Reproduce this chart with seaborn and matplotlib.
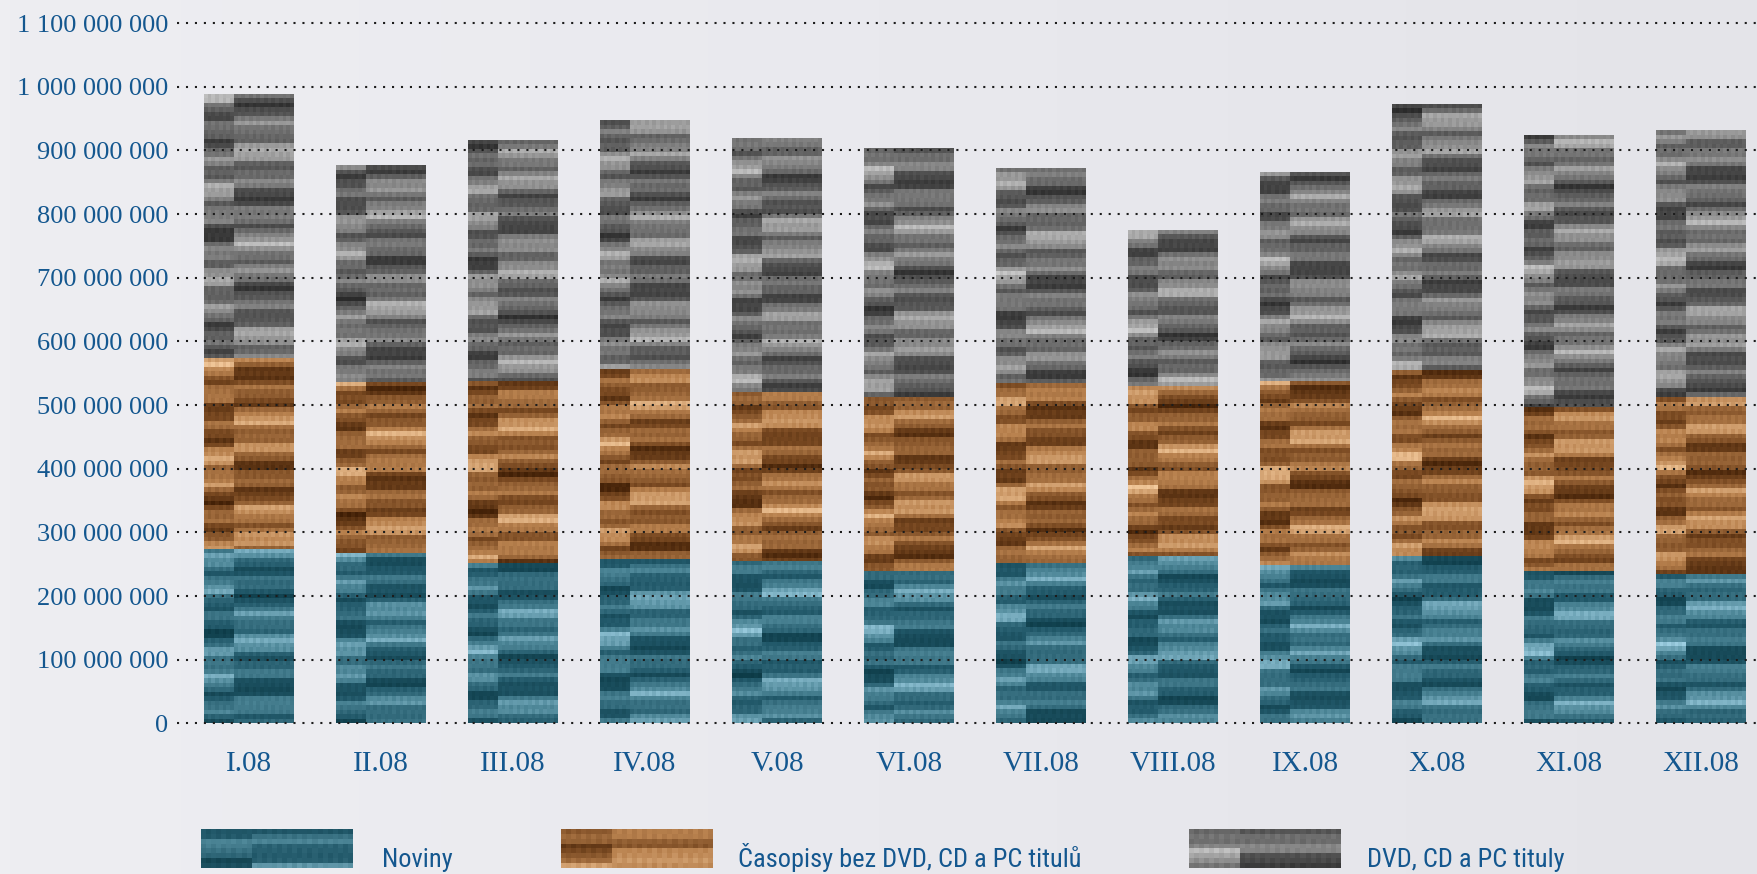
import numpy as np
import pandas as pd
import matplotlib
matplotlib.use("Agg")
import matplotlib.pyplot as plt
import seaborn as sns
from matplotlib.colors import LinearSegmentedColormap
from matplotlib.ticker import FuncFormatter

# Monthly print-run volumes, 2008
months = ["I.08", "II.08", "III.08", "IV.08", "V.08", "VI.08",
          "VII.08", "VIII.08", "IX.08", "X.08", "XI.08", "XII.08"]
noviny = [273_000_000, 267_000_000, 250_000_000, 257_000_000, 253_000_000, 238_000_000,
          251_000_000, 262_000_000, 248_000_000, 262_000_000, 238_000_000, 233_000_000]
casopisy = [301_000_000, 268_000_000, 286_000_000, 300_000_000, 267_000_000, 274_000_000,
            283_000_000, 268_000_000, 289_000_000, 293_000_000, 258_000_000, 279_000_000]
dvd = [414_000_000, 342_000_000, 379_000_000, 391_000_000, 399_000_000, 390_000_000,
       337_000_000, 245_000_000, 329_000_000, 417_000_000, 428_000_000, 419_000_000]
series_names = ["Noviny", "Časopisy bez DVD, CD a PC titulů", "DVD, CD a PC tituly"]
y_ticks = list(range(0, 1_100_000_001, 100_000_000))

BLUE = "#14578f"
BG = "#eaeaef"
base_colors = ["#2f6a7c", "#a66c40", "#777777"]
cmaps = [
    LinearSegmentedColormap.from_list("teal", ["#0c3a46", "#22596a", "#4e8798", "#9ccde0"]),
    LinearSegmentedColormap.from_list("brown", ["#3f1e05", "#7a4a22", "#b9824f", "#f6cda0"]),
    LinearSegmentedColormap.from_list("grey", ["#2a2a2a", "#575757", "#8e8e8e", "#cfcfcf"]),
]

df = pd.DataFrame({"month": months, "noviny": noviny, "casopisy": casopisy, "dvd": dvd})
df["mid"] = df["noviny"] + df["casopisy"]
df["total"] = df["mid"] + df["dvd"]

sns.set_style("white")
plt.rcParams["font.family"] = ["Liberation Serif", "DejaVu Serif"]

fig = plt.figure(figsize=(17.58, 8.74), dpi=100)
fig.patch.set_facecolor(BG)

# soft left-to-right shading of the page
bg_ax = fig.add_axes([0, 0, 1, 1], zorder=-10)
shade = LinearSegmentedColormap.from_list("page", ["#eeeef2", "#e9e9ee", "#e4e4e9"])
bg_ax.imshow(np.linspace(0, 1, 256)[None, :], cmap=shade, aspect="auto",
             extent=(0, 1, 0, 1), interpolation="bilinear")
bg_ax.axis("off")

ax = fig.add_axes([0.1007, 0.1666, 0.8993, 0.8156], zorder=1)
ax.set_facecolor("none")


def texture(rows, k, j, cols=24):
    """Banded, blocky fill pattern used inside the bars and legend keys."""
    r = np.arange(rows)[:, None].astype(float)
    c = np.arange(cols)[None, :].astype(float)
    block = (c >= cols // 3).astype(float)
    v = (0.48
         + 0.20 * np.sin(0.93 * r + 1.7 * j + 0.6 * k + 1.3 * block)
         + 0.16 * np.sin(0.29 * r + 2.4 * block + 0.9 * j + k)
         + 0.08 * np.sin(2.3 * r + 0.8 * block + j)
         + 0.07 * (1 - block) * np.sin(0.5 * r + 2.0 + j)
         + 0.035 * np.cos(2.9 * c + 1.1 * r))
    return np.clip(v, 0, 1)


# stacked layers: (top column, bottom column, series index)
layers = [("total", "mid", 2), ("mid", "noviny", 1), ("noviny", None, 0)]
for top_col, bottom_col, k in layers:
    sns.barplot(data=df, x="month", y=top_col, color=base_colors[k], saturation=1,
                width=0.68, linewidth=0, ax=ax, zorder=1)

for cont, (top_col, bottom_col, k) in zip(ax.containers, layers):
    for j, bar in enumerate(cont):
        x0, w = bar.get_x(), bar.get_width()
        top = bar.get_height()
        bottom = df[bottom_col].iloc[j] if bottom_col else 0
        rows = max(int((top - bottom) / 7_000_000), 4)
        ax.imshow(texture(rows, k, j), cmap=cmaps[k], vmin=0, vmax=1,
                  extent=(x0, x0 + w, bottom, top), aspect="auto",
                  interpolation="nearest", zorder=1.5)

ax.set_aspect("auto")
ax.set_xlim(-0.545, 11.43)
ax.set_ylim(-8_000_000, 1_112_000_000)
ax.set_yticks(y_ticks)
ax.yaxis.set_major_formatter(FuncFormatter(lambda v, p: f"{int(round(v)):,}".replace(",", " ")))

ax.set_axisbelow(False)
ax.yaxis.grid(True, linestyle=(0, (1, 3.3)), linewidth=1.5, color="#1c1c1c")
ax.xaxis.grid(False)
for s in ax.spines.values():
    s.set_visible(False)
ax.set_xlabel("")
ax.set_ylabel("")
ax.tick_params(axis="y", length=0, pad=6.5, labelsize=19, labelcolor=BLUE)
ax.tick_params(axis="x", length=0, pad=16.5, labelsize=21, labelcolor=BLUE)

# legend keys and labels along the bottom edge
key_left = [201, 561, 1189]
text_left = [382, 738, 1367]
W, H = 1758, 874
for k, name in enumerate(series_names):
    kax = fig.add_axes([key_left[k] / W, (H - 868) / H, 152 / W, 39 / H], zorder=1)
    kax.imshow(texture(8, k, 3 + k, cols=30), cmap=cmaps[k], vmin=0, vmax=1,
               aspect="auto", interpolation="nearest")
    kax.axis("off")
    fig.text(text_left[k] / W, (H - 867) / H, name, color=BLUE, fontsize=19,
             va="baseline", ha="left", fontstretch="condensed",
             family=["Roboto Condensed", "Liberation Sans Narrow", "DejaVu Sans"])

fig.savefig("out.png", dpi=100, facecolor=BG)
